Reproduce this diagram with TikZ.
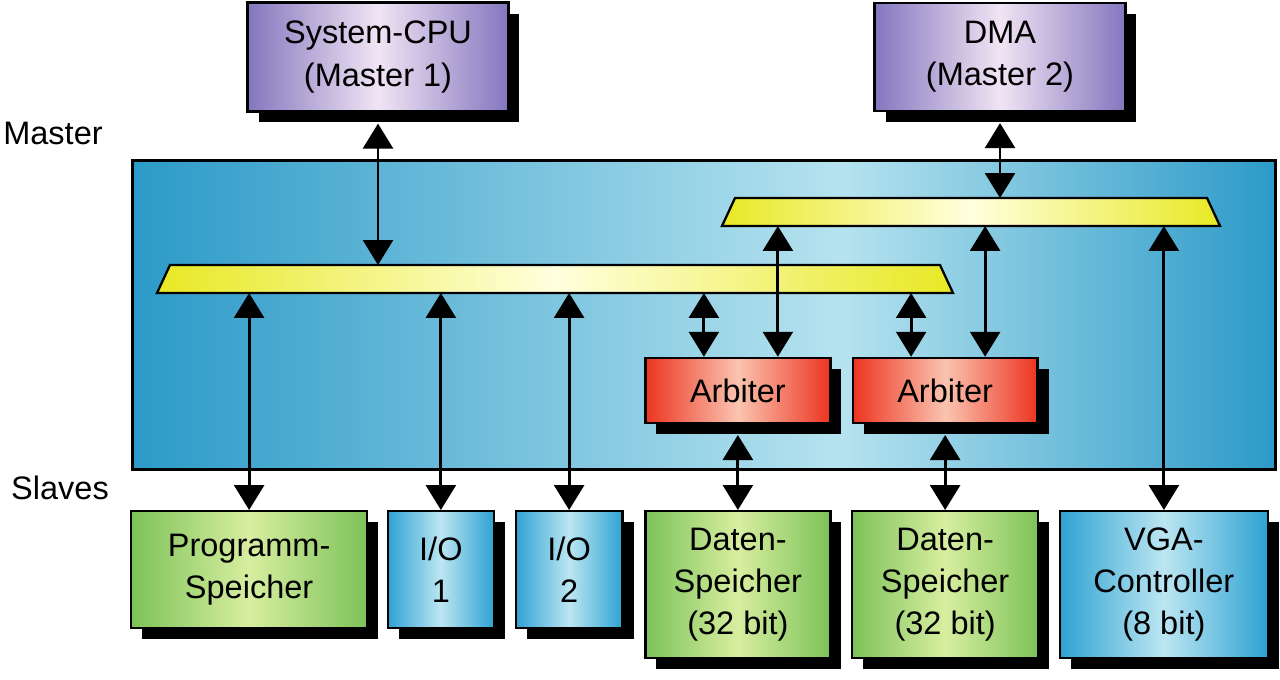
\documentclass[tikz,border=0pt]{standalone}
\usepackage{fontspec}
\setmainfont{Liberation Sans}
\usetikzlibrary{positioning,shadows,arrows.meta}

\definecolor{paneldark}{RGB}{44,154,200}
\definecolor{panellight}{RGB}{182,227,239}
\definecolor{mpurple}{RGB}{132,118,190}
\definecolor{mlight}{RGB}{240,228,244}
\definecolor{byellow}{RGB}{232,232,36}
\definecolor{blight}{RGB}{255,255,222}
\definecolor{ared}{RGB}{236,52,32}
\definecolor{alight}{RGB}{250,196,176}
\definecolor{sgreen}{RGB}{124,194,88}
\definecolor{glight}{RGB}{216,238,160}
\definecolor{sblue}{RGB}{46,162,210}
\definecolor{slight}{RGB}{188,230,242}
\pgfdeclarehorizontalshading{panelshade}{100bp}{color(0bp)=(paneldark); color(25bp)=(paneldark); color(56bp)=(panellight); color(75bp)=(paneldark); color(100bp)=(paneldark)}

\begin{document}
\begin{tikzpicture}[x=0.02cm, y=-0.02cm,
    box/.style={rectangle, draw=black, line width=1.3pt, inner sep=0pt, align=center, font=\fontsize{18.5}{24}\selectfont,
      drop shadow={shadow xshift=.22cm, shadow yshift=-.22cm, opacity=1, fill=black}},
    mnode/.style={box, left color=mpurple, right color=mpurple, middle color=mlight},
    anode/.style={box, left color=ared, right color=ared, middle color=alight, minimum width=3.7cm, minimum height=1.3cm},
    gnode/.style={box, left color=sgreen, right color=sgreen, middle color=glight},
    bnode/.style={box, left color=sblue, right color=sblue, middle color=slight},
    bus/.style={draw=black, line width=1.3pt, line join=miter, left color=byellow, right color=byellow, middle color=blight},
    link/.style={line width=1.6pt, {Triangle[width=.6cm,length=.5cm]}-{Triangle[width=.6cm,length=.5cm]}},
    lbl/.style={font=\fontsize{18.5}{24}\selectfont}]
    \useasboundingbox (0,0) rectangle (1280,679);
    % masters and bus panel
    \node[rectangle, draw=black, line width=1.3pt, shading=panelshade, minimum width=22.86cm, minimum height=6.18cm] (panel) at (704,315) {};
    \node[mnode, minimum width=5.22cm, minimum height=2.18cm] (cpu) at (378,57) {System-CPU\\(Master 1)};
    \node[mnode, minimum width=5.02cm, minimum height=2.16cm] (dma) at (1000,57) {DMA\\(Master 2)};
    \path[bus] (157,293) -- (170,265) -- (940,265) -- (953,293) -- cycle;
    \path[bus] (722,226) -- (735,198) -- (1207,198) -- (1220,226) -- cycle;
    \coordinate (lbusn) at (555,265);
    \coordinate (lbuss) at (555,293);
    \coordinate (tbusn) at (971,198);
    \coordinate (tbuss) at (971,226);
    \node[lbl] (master) at (53,133) {Master};
    \node[lbl] (slaves) at (60,488) {Slaves};
    % slaves
    \node[gnode, minimum width=4.72cm, minimum height=2.34cm, anchor=north west] (prog) at (130,510) {Programm-\\Speicher};
    \node[bnode, minimum width=2.12cm, minimum height=2.34cm, right=.37cm of prog.north east, anchor=north west] (io1) {I/O\\1};
    \node[bnode, minimum width=2.14cm, minimum height=2.34cm, right=.39cm of io1.north east, anchor=north west] (io2) {I/O\\2};
    \node[gnode, minimum width=3.7cm, minimum height=2.94cm, right=.41cm of io2.north east, anchor=north west] (dat1) {Daten-\\Speicher\\(32 bit)};
    \node[gnode, minimum width=3.72cm, minimum height=2.94cm, right=.39cm of dat1.north east, anchor=north west] (dat2) {Daten-\\Speicher\\(32 bit)};
    \node[bnode, minimum width=4.16cm, minimum height=2.94cm, right=.39cm of dat2.north east, anchor=north west] (vga) {VGA-\\Controller\\(8 bit)};
    \node[anode, above=1.72cm of dat1] (arb1) {Arbiter};
    \node[anode, above=1.72cm of dat2] (arb2) {Arbiter};
    \coordinate (arb1l) at ([xshift=-.68cm]arb1.north);
    \coordinate (arb1r) at ([xshift=.8cm]arb1.north);
    \coordinate (arb2l) at ([xshift=-.68cm]arb2.north);
    \coordinate (arb2r) at ([xshift=.8cm]arb2.north);
    % connections
    \draw[link] ([yshift=-.22cm]cpu.south) -- (cpu.south |- lbusn);
    \draw[link] ([yshift=-.22cm]dma.south) -- (dma.south |- tbusn);
    \draw[link] (lbuss -| prog.north) -- (prog.north);
    \draw[link] (lbuss -| io1.north) -- (io1.north);
    \draw[link] (lbuss -| io2.north) -- (io2.north);
    \draw[link] (lbuss -| arb1l) -- (arb1l);
    \draw[link] (lbuss -| arb2l) -- (arb2l);
    \draw[link] (tbuss -| arb1r) -- (arb1r);
    \draw[link] (tbuss -| arb2r) -- (arb2r);
    \draw[link] (tbuss -| vga.north) -- (vga.north);
    \draw[link] ([yshift=-.22cm]arb1.south) -- (dat1.north);
    \draw[link] ([yshift=-.22cm]arb2.south) -- (dat2.north);
\end{tikzpicture}
\end{document}
